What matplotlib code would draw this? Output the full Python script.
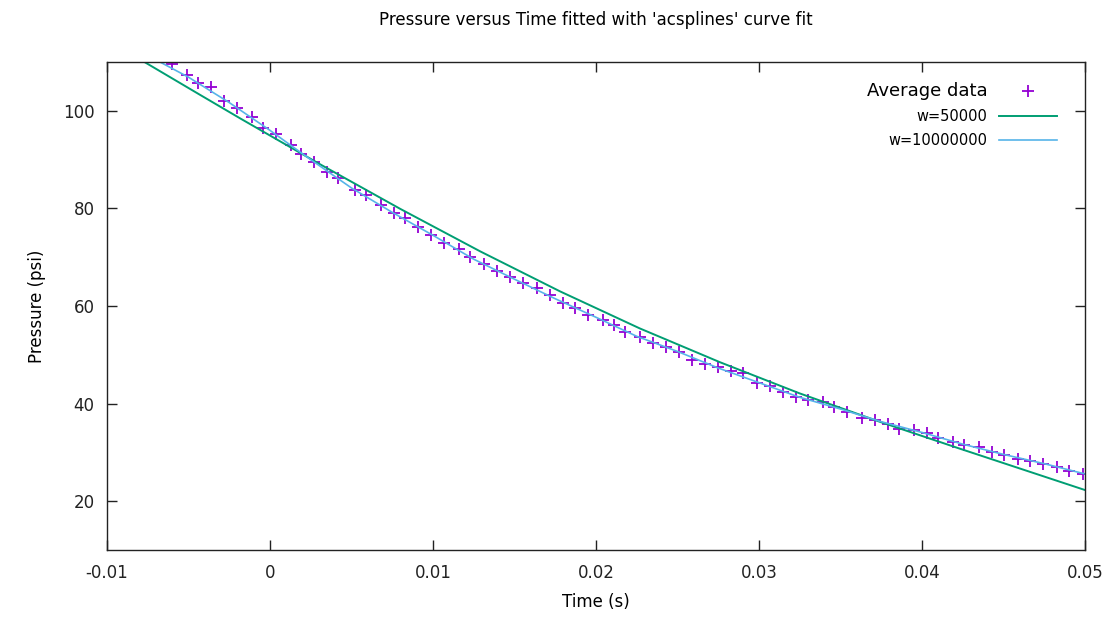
import matplotlib
matplotlib.use('Agg')
import matplotlib.pyplot as plt

# Donnees moyennes
time_s = [-0.0060, -0.0051, -0.0044, -0.0036, -0.0028, -0.0020, -0.0011, -0.0004,
          0.0004, 0.0013, 0.0019, 0.0027, 0.0035, 0.0042, 0.0052, 0.0059, 0.0068,
          0.0076, 0.0083, 0.0091, 0.0099, 0.0107, 0.0116, 0.0123, 0.0131, 0.0139,
          0.0147, 0.0155, 0.0164, 0.0172, 0.0180, 0.0187, 0.0195, 0.0204, 0.0211,
          0.0218, 0.0227, 0.0235, 0.0243, 0.0251, 0.0259, 0.0267, 0.0275, 0.0283,
          0.0290, 0.0299, 0.0307, 0.0315, 0.0323, 0.0330, 0.0339, 0.0346, 0.0354,
          0.0363, 0.0371, 0.0379, 0.0386, 0.0395, 0.0403, 0.0410, 0.0419, 0.0426,
          0.0435, 0.0443, 0.0450, 0.0459, 0.0466, 0.0474, 0.0483, 0.0490, 0.0499]
pressure = [109.6, 107.4, 105.7, 104.8, 102.1, 100.6, 98.8, 96.5, 95.2, 93.0, 91.2,
            89.5, 87.5, 86.2, 83.7, 82.8, 80.7, 79.0, 78.0, 76.1, 74.6, 73.0, 71.7,
            70.0, 68.6, 67.2, 66.0, 64.7, 63.6, 62.3, 60.6, 59.5, 58.2, 57.1, 56.1,
            54.7, 53.7, 52.5, 51.6, 50.6, 48.9, 48.2, 47.5, 46.7, 46.2, 44.3, 43.6,
            42.4, 41.4, 40.7, 40.4, 39.3, 38.3, 37.0, 36.6, 35.9, 34.9, 34.7, 33.9,
            32.9, 32.2, 31.5, 31.1, 30.1, 29.4, 28.7, 28.2, 27.7, 27.0, 26.2, 25.5]

# courbe w=50000
fit1_t = [-0.0079, -0.0043, -0.0018, 0.0031, 0.0080, 0.0129, 0.0178, 0.0227,
          0.0276, 0.0325, 0.0374, 0.0423, 0.0500]
fit1_p = [110.4, 103.3, 98.4, 89.0, 79.9, 71.2, 63.0, 55.4, 48.5, 42.1, 36.3, 30.8, 22.3]

# courbe w=10000000
fit2_t = [-0.0068, -0.005, -0.0025, 0.0, 0.0025, 0.005, 0.0075, 0.01, 0.0125, 0.015,
          0.0175, 0.02, 0.0225, 0.025, 0.0275, 0.03, 0.0325, 0.035, 0.0375, 0.04,
          0.0425, 0.045, 0.0475, 0.05]
fit2_p = [110.1, 106.9, 101.7, 96.0, 90.0, 84.2, 79.2, 74.5, 69.6, 65.5, 61.5, 57.7,
          53.8, 50.7, 47.3, 44.3, 41.3, 38.9, 36.3, 34.1, 31.7, 29.6, 27.7, 25.6]

fig = plt.figure(figsize=(11.14, 6.33), dpi=100)
ax = fig.add_axes([0.096, 0.131, 0.878, 0.771])

ax.plot(time_s, pressure, linestyle='none', marker='+', color='#9400D3',
        markersize=9, markeredgewidth=1.3, label='Average data')
ax.plot(fit1_t, fit1_p, color='#009E73', linewidth=1.4, label='w=50000')
ax.plot(fit2_t, fit2_p, color='#56B4E9', linewidth=1.2, label='w=10000000')

ax.set_xlim(-0.01, 0.05)
ax.set_ylim(10, 110)
ax.set_xticks([-0.01, 0, 0.01, 0.02, 0.03, 0.04, 0.05])
ax.set_xticklabels(['-0.01', '0', '0.01', '0.02', '0.03', '0.04', '0.05'])
ax.set_yticks([20, 40, 60, 80, 100])
ax.tick_params(direction='in', length=7, width=1, top=True, right=True,
               labelsize=12, colors='#222222')
ax.tick_params(axis='x', pad=10)
ax.tick_params(axis='y', pad=9)
for s in ax.spines.values():
    s.set_color('#222222')
    s.set_linewidth(1)

ax.set_xlabel('Time (s)', fontsize=12, labelpad=8)
ax.set_ylabel('Pressure (psi)', fontsize=12, labelpad=12)
fig.text(0.535, 0.968, "Pressure versus Time fitted with 'acsplines' curve fit",
         ha='center', va='center', fontsize=12)

leg = ax.legend(loc='upper right', bbox_to_anchor=(0.985, 0.985), frameon=False,
                markerfirst=False, fontsize=10.5, handlelength=4, labelspacing=0.6)
leg.get_texts()[0].set_fontsize(13)

fig.savefig('out.png', dpi=100)
